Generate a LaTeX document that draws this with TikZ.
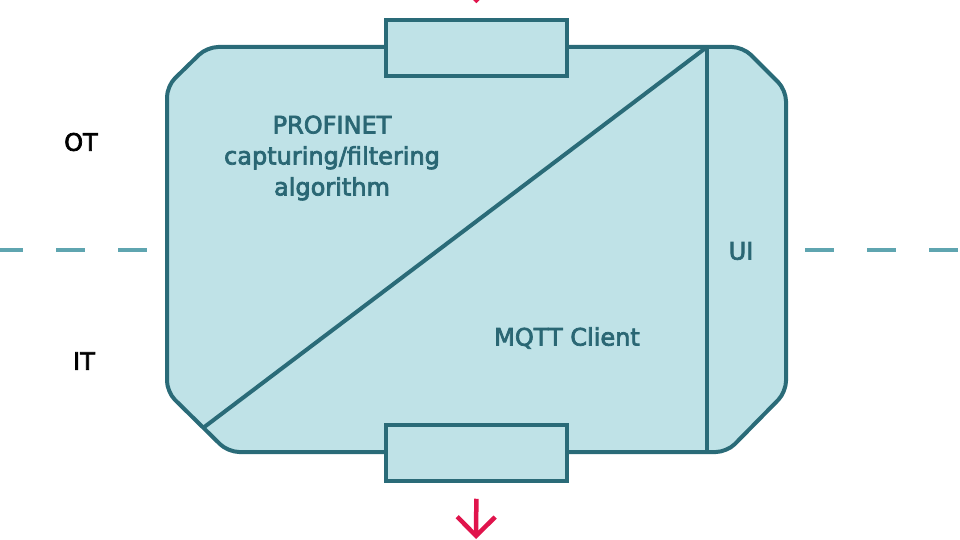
\documentclass[tikz,border=0pt]{standalone}
\usepackage{fontspec}
\setmainfont{DejaVu Sans}
\newfontfamily\medfont{DejaVu Sans}[FakeBold=3]
\usetikzlibrary{arrows.meta}
\definecolor{tealfill}{HTML}{BFE2E7}
\definecolor{tealline}{HTML}{2A6B78}
\definecolor{tealtext}{HTML}{2A6774}
\definecolor{tealdash}{HTML}{5FA5B0}
\definecolor{arrowred}{HTML}{E0144C}
\tikzset{
  outline/.style={draw=tealline, line width=4pt, line join=round},
  portbox/.style={draw=tealline, fill=tealfill, line width=3.5pt, minimum width=181pt, minimum height=56pt, inner sep=0pt},
  divider/.style={draw=tealline, line width=4pt},
  sepline/.style={draw=tealdash, line width=4pt, dash pattern=on 29pt off 33pt},
  flowarrow/.style={draw=arrowred, line width=4.5pt, -{Straight Barb[length=19pt,width=38pt]}},
  boxtext/.style={text=tealtext, font=\medfont\fontsize{24}{31}\selectfont, align=center, inner sep=0pt},
  sidetext/.style={text=black, font=\medfont\fontsize{24}{30}\selectfont, inner sep=0pt}
}
\begin{document}
\begin{tikzpicture}[x=1pt,y=-1pt]
\useasboundingbox (0,0) rectangle (960,540);
% separator dashes
\coordinate (dl1) at (-6,250);
\coordinate (dl2) at (150,250);
\coordinate (dr1) at (805,250);
\coordinate (dr2) at (970,250);
\draw[sepline] (dl1) -- (dl2);
\draw[sepline] (dr1) -- (dr2);
% main device body
\path[outline, fill=tealfill, rounded corners=11pt]
  (207,47) -- (743,47) -- (786,90) -- (786,392) -- (727,452) -- (228,452) -- (167,392) -- (167,86) -- cycle;
\coordinate (dA) at (203,428);
\coordinate (dB) at (707,47);
\coordinate (dC) at (707,452);
\draw[divider] (dA) -- (dB);
\draw[divider] (dB) -- (dC);
% ports
\node[portbox] (topport) at (476.5,48) {};
\node[portbox] (botport) at (476.5,453) {};
% arrows
\coordinate (topsrc) at (476,-45);
\coordinate (bottip) at (476,539);
\draw[flowarrow, shorten >=15pt] (topsrc) -- (topport.north);
\draw[flowarrow, shorten <=16pt] (botport.south) -- (bottip);
% texts
\node[boxtext] (profinet) at (332,158) {PROFINET\\capturing/filtering\\algorithm};
\node[boxtext] (mqtt) at (567,338) {MQTT Client};
\node[boxtext] (ui) at (741,251) {UI};
\node[sidetext] (ot) at (81,142) {OT};
\node[sidetext] (it) at (84,361) {IT};
\end{tikzpicture}
\end{document}
